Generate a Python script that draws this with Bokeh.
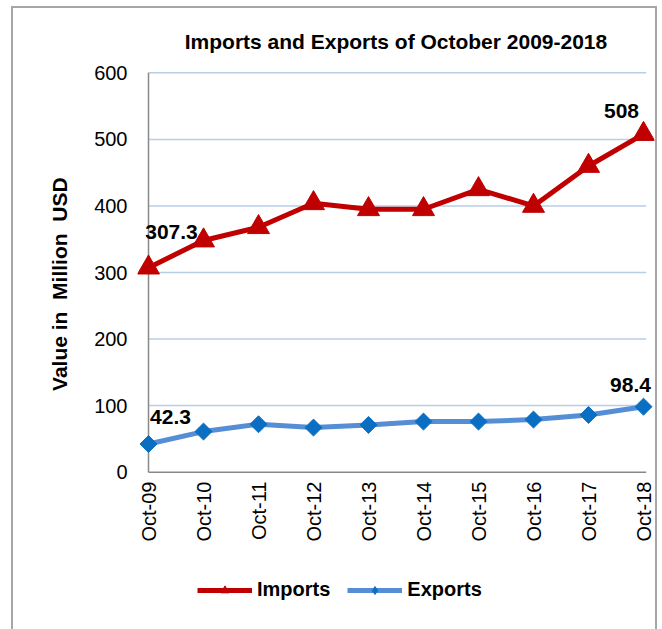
import numpy as np
from bokeh.plotting import figure
from bokeh.layouts import column
from bokeh.models import Range1d, FixedTicker, Legend, LegendItem, ColumnDataSource
from bokeh.core.properties import value
from bokeh.embed import file_html
from bokeh.resources import INLINE

# ---- data ----
categories = ["Oct-09", "Oct-10", "Oct-11", "Oct-12", "Oct-13",
              "Oct-14", "Oct-15", "Oct-16", "Oct-17", "Oct-18"]
imports = [307.3, 348, 368, 404, 395, 395, 425, 400, 460, 508]
exports = [42.3, 61, 72, 67, 71, 76, 76, 79, 86, 98.4]
y_ticks = [0, 100, 200, 300, 400, 500, 600]

FONT = "Liberation Sans"
RED = "#C00000"
BLUE_LINE = "#558ED5"
BLUE_MARK = "#0A6FC2"
GRID = "#B9CDE5"
AXIS = "#898989"

xs = list(range(len(categories)))
x_end = len(categories) - 1 + 0.05

p = figure(width=642, height=545, output_backend="svg", toolbar_location=None,
           x_range=Range1d(-0.2, len(categories) - 1 + 0.2),
           y_range=Range1d(-5, 605),
           min_border_left=124, min_border_right=1,
           min_border_top=61, min_border_bottom=78)
p.outline_line_color = None
p.background_fill_color = "white"
p.border_fill_color = "white"

# title
p.title.text = "Imports and Exports of October 2009-2018"
p.title.align = "center"
p.title.text_font = FONT
p.title.text_font_size = "21px"
p.title.text_font_style = "bold"
p.title.text_color = "black"
p.title.standoff = 34

# grid (drawn manually so it stops at the last category)
p.xgrid.visible = False
p.ygrid.visible = False
p.segment(x0=[0] * (len(y_ticks) - 1), x1=[x_end] * (len(y_ticks) - 1),
          y0=y_ticks[1:], y1=y_ticks[1:], line_color=GRID, line_width=1.5)
# axis lines
p.segment(x0=[0, 0], x1=[0, x_end], y0=[0, 0], y1=[y_ticks[-1], 0],
          line_color=AXIS, line_width=1.5)

# axes
p.xaxis.ticker = FixedTicker(ticks=xs)
p.xaxis.major_label_overrides = {i: c for i, c in zip(xs, categories)}
p.xaxis.major_label_orientation = np.pi / 2
p.xaxis.axis_line_color = None
p.xaxis.major_tick_line_color = None
p.xaxis.minor_tick_line_color = None
p.xaxis.major_tick_out = 0
p.xaxis.minor_tick_out = 0
p.xaxis.major_label_text_font = FONT
p.xaxis.major_label_text_font_size = "20px"
p.xaxis.major_label_text_color = "black"
p.xaxis.major_label_standoff = 6

p.yaxis.ticker = FixedTicker(ticks=y_ticks)
p.yaxis.axis_line_color = None
p.yaxis.major_tick_line_color = None
p.yaxis.minor_tick_line_color = None
p.yaxis.major_tick_out = 0
p.yaxis.minor_tick_out = 0
p.yaxis.major_label_text_font = FONT
p.yaxis.major_label_text_font_size = "20px"
p.yaxis.major_label_text_color = "black"
p.yaxis.major_label_standoff = 10
p.yaxis.axis_label = "Value in\u00a0 Million\u00a0 USD\u00a0\u00a0\u00a0\u00a0"
p.yaxis.axis_label_text_font = FONT
p.yaxis.axis_label_text_font_size = "21px"
p.yaxis.axis_label_text_font_style = "bold"
p.yaxis.axis_label_text_color = "black"
p.yaxis.axis_label_standoff = 20

# series
imp_line = p.line(xs, imports, line_color=RED, line_width=5)
imp_mark = p.scatter(xs, imports, marker="triangle", size=22,
                     fill_color=RED, line_color=RED)
exp_line = p.line(xs, exports, line_color=BLUE_LINE, line_width=5)
exp_mark = p.scatter(xs, exports, marker="square", angle=np.pi / 4, size=12,
                     fill_color=BLUE_MARK, line_color=BLUE_MARK)

# data labels (first and last of each series)
lab = ColumnDataSource(dict(
    x=[xs[0], xs[-1], xs[0], xs[-1]],
    y=[imports[0], imports[-1], exports[0], exports[-1]],
    t=[f"{imports[0]:g}", f"{imports[-1]:g}", f"{exports[0]:g}", f"{exports[-1]:g}"],
    dx=[23, -22, 22, -13],
    dy=[-36, -23, -27, -22],
))
p.text(x="x", y="y", text="t", source=lab, x_offset="dx", y_offset="dy",
       text_align="center", text_baseline="middle",
       text_font=value(FONT), text_font_size="21px", text_font_style="bold",
       text_color="black")

# ---- legend strip (separate small figure below the chart) ----
# same series drawn here, but entirely outside this strip's ranges (invisible);
# they only serve as legend glyph sources
q = figure(width=642, height=76, output_backend="svg", toolbar_location=None,
           x_range=Range1d(-100, -99), y_range=Range1d(-100, -99),
           x_axis_location=None, y_axis_location=None,
           min_border=0)
q.outline_line_color = None
q.xgrid.visible = False
q.ygrid.visible = False
q.border_fill_color = "white"
q.background_fill_color = "white"
l1 = q.line(xs, imports, line_color=RED, line_width=5)
m1 = q.scatter(xs, imports, marker="triangle", size=22,
               fill_color=RED, line_color=RED)
l2 = q.line(xs, exports, line_color=BLUE_LINE, line_width=5)
m2 = q.scatter(xs, exports, marker="diamond", size=16,
               fill_color=BLUE_MARK, line_color=BLUE_MARK)
legend = Legend(items=[LegendItem(label="Imports", renderers=[l1, m1]),
                       LegendItem(label="Exports", renderers=[l2, m2])],
                orientation="horizontal", location=(60, 28),
                glyph_width=55, glyph_height=20, label_height=20,
                label_standoff=5, spacing=17, padding=0, margin=0,
                border_line_color=None, background_fill_alpha=0,
                label_text_font=FONT, label_text_font_size="20px",
                label_text_font_style="bold", label_text_color="black")
q.add_layout(legend, "center")

layout = column(p, q, spacing=0,
                styles={"border-top": "2px solid #A6A6A6",
                        "border-left": "2px solid #A6A6A6",
                        "border-right": "2px solid #A6A6A6",
                        "margin-left": "11px", "margin-top": "6px"})

open("out.html", "w").write(file_html(layout, INLINE))
